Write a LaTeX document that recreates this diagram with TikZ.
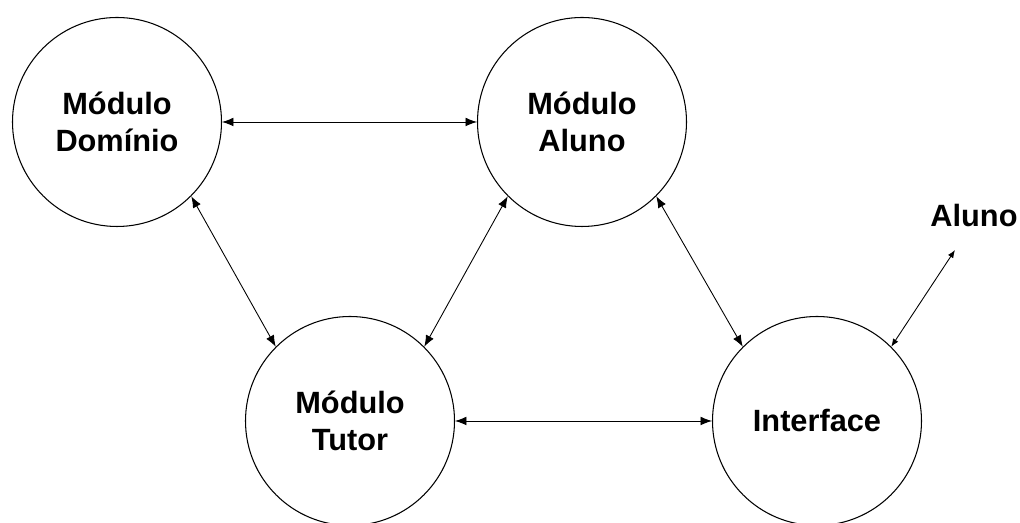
\documentclass[tikz,border=0pt]{standalone}
\usepackage{fontspec}
\setmainfont{Liberation Sans}
\usetikzlibrary{arrows.meta}

\tikzset{
  modulo/.style={circle,draw,line width=0.6pt,minimum size=4.18cm,align=center,
    font=\fontsize{17.5}{21}\selectfont\bfseries},
  liga/.style={{Latex[length=6.5pt,width=5pt]}-{Latex[length=6.5pt,width=5pt]},line width=0.5pt},
  ligafina/.style={{Latex[length=4.5pt,width=3.5pt]}-{Latex[length=4.5pt,width=3.5pt]},line width=0.5pt}
}

\begin{document}
\begin{tikzpicture}
                \useasboundingbox (0,0) rectangle (20.4,10.46);
                % the four modules
                \node[modulo] (dom) at (2.34,8.02) {Módulo\\Domínio};
                \node[modulo] (alu) at (11.64,8.02) {Módulo\\Aluno};
                \node[modulo] (tut) at (7.00,2.04) {Módulo\\Tutor};
                \node[modulo] (int) at (16.34,2.04) {Interface};
                % the student outside
                \node[font=\fontsize{17.5}{21}\selectfont\bfseries] (usr) at (19.48,6.14) {Aluno};
                \coordinate (usrpt) at (19.10,5.46);
                % links
                \draw[liga] (dom.east) -- (alu.west);
                \draw[liga] (tut.east) -- (int.west);
                \draw[liga] (dom.-45) -- (tut.135);
                \draw[liga] (alu.-135) -- (tut.45);
                \draw[liga] (alu.-45) -- (int.135);
                \draw[ligafina] (int.45) -- (usrpt);
            \end{tikzpicture}
\end{document}
